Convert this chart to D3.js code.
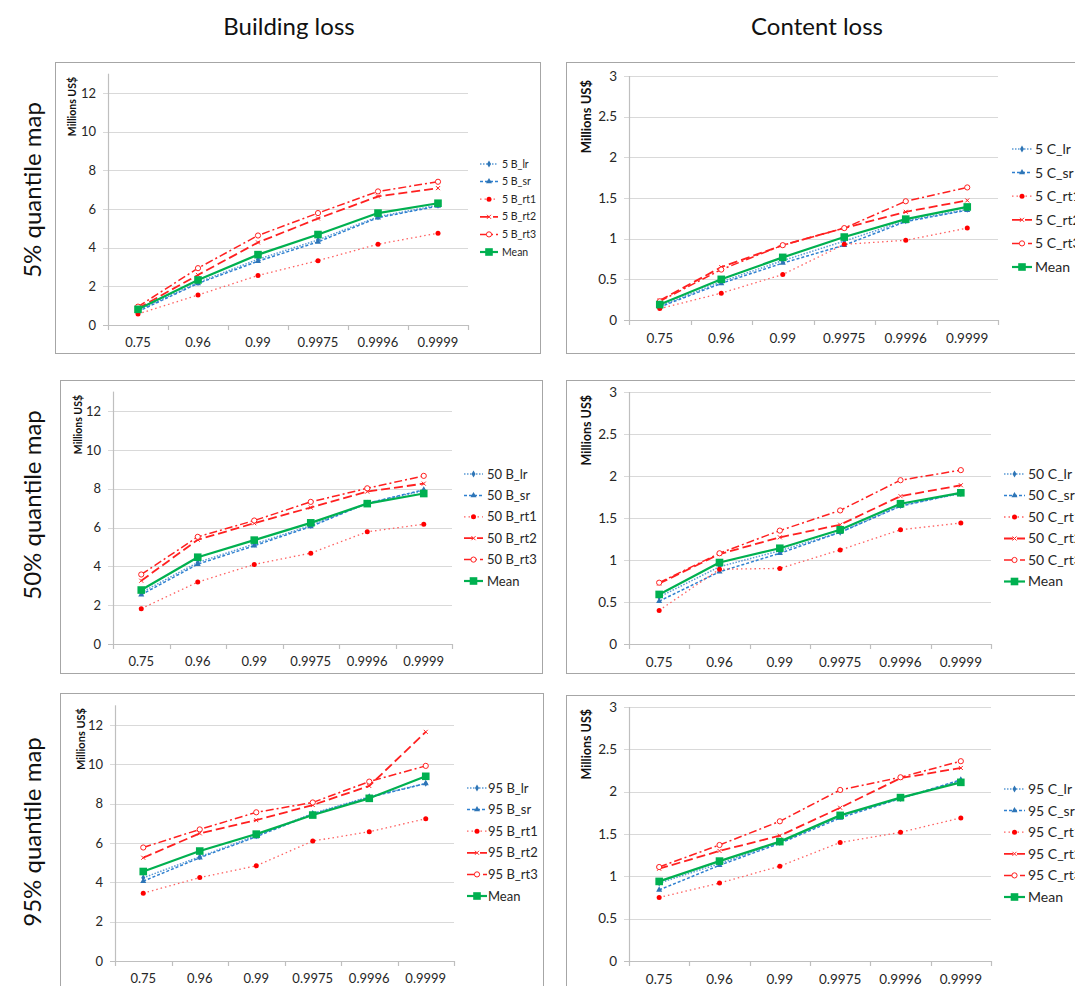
<!DOCTYPE html>
<html><head><meta charset="utf-8">
<script src="https://cdn.jsdelivr.net/npm/d3@7"></script>
<style>
html,body{margin:0;padding:0;background:#fff;}
svg{display:block;font-family:Lato,"Open Sans",sans-serif;}
</style></head>
<body>
<svg id="chart" width="1075" height="986"></svg>
<script>
// ---------- data ----------
const categories = ["0.75","0.96","0.99","0.9975","0.9996","0.9999"];
const seriesSuffix = ["lr","sr","rt1","rt2","rt3"];
const columnTitles = ["Building loss","Content loss"];
const rowTitles = ["5% quantile map","50% quantile map","95% quantile map"];
const buildingTicks = [0,2,4,6,8,10,12];
const buildingTickLabels = ["0","2","4","6","8","10","12"];
const contentTicks = [0,0.5,1,1.5,2,2.5,3];
const contentTickLabels = ["0","0.5","1","1.5","2","2.5","3"];
const yAxisTitle = "Millions US$";

// Building loss, 5% quantile map
const b5_lr   = [0.75, 2.20, 3.40, 4.40, 5.60, 6.20];
const b5_sr   = [0.70, 2.15, 3.30, 4.30, 5.55, 6.15];
const b5_rt1  = [0.57, 1.55, 2.56, 3.33, 4.18, 4.75];
const b5_rt2  = [0.86, 2.59, 4.27, 5.51, 6.65, 7.08];
const b5_rt3  = [0.95, 2.94, 4.63, 5.79, 6.91, 7.41];
const b5_mean = [0.81, 2.33, 3.64, 4.68, 5.79, 6.30];
// Content loss, 5%
const c5_lr   = [0.17, 0.47, 0.73, 0.97, 1.22, 1.36];
const c5_sr   = [0.16, 0.45, 0.70, 0.92, 1.21, 1.35];
const c5_rt1  = [0.14, 0.33, 0.56, 0.93, 0.98, 1.13];
const c5_rt2  = [0.24, 0.65, 0.92, 1.13, 1.33, 1.47];
const c5_rt3  = [0.23, 0.62, 0.92, 1.13, 1.46, 1.63];
const c5_mean = [0.19, 0.50, 0.77, 1.02, 1.24, 1.39];
// Building loss, 50%
const b50_lr   = [2.65, 4.20, 5.15, 6.10, 7.25, 7.90];
const b50_sr   = [2.54, 4.11, 5.06, 6.05, 7.25, 7.94];
const b50_rt1  = [1.82, 3.19, 4.10, 4.68, 5.78, 6.17];
const b50_rt2  = [3.26, 5.37, 6.22, 7.03, 7.85, 8.26];
const b50_rt3  = [3.58, 5.52, 6.36, 7.32, 8.02, 8.66];
const b50_mean = [2.78, 4.47, 5.35, 6.24, 7.23, 7.75];
// Content loss, 50%
const c50_lr   = [0.56, 0.92, 1.11, 1.33, 1.65, 1.79];
const c50_sr   = [0.51, 0.86, 1.08, 1.33, 1.64, 1.80];
const c50_rt1  = [0.40, 0.89, 0.90, 1.12, 1.36, 1.44];
const c50_rt2  = [0.72, 1.07, 1.27, 1.42, 1.76, 1.89];
const c50_rt3  = [0.73, 1.08, 1.35, 1.59, 1.95, 2.07];
const c50_mean = [0.59, 0.97, 1.14, 1.36, 1.67, 1.80];
// Building loss, 95%
const b95_lr   = [4.23, 5.30, 6.37, 7.50, 8.35, 9.03];
const b95_sr   = [4.06, 5.25, 6.32, 7.47, 8.32, 9.02];
const b95_rt1  = [3.45, 4.24, 4.84, 6.10, 6.57, 7.23];
const b95_rt2  = [5.25, 6.49, 7.16, 7.93, 8.90, 11.65];
const b95_rt3  = [5.77, 6.69, 7.56, 8.06, 9.12, 9.92];
const b95_mean = [4.55, 5.59, 6.45, 7.42, 8.27, 9.39];
// Content loss, 95%
const c95_lr   = [0.92, 1.15, 1.40, 1.71, 1.92, 2.13];
const c95_sr   = [0.84, 1.13, 1.39, 1.69, 1.92, 2.14];
const c95_rt1  = [0.75, 0.92, 1.12, 1.40, 1.52, 1.69];
const c95_rt2  = [1.09, 1.30, 1.48, 1.81, 2.16, 2.28];
const c95_rt3  = [1.11, 1.37, 1.65, 2.02, 2.17, 2.36];
const c95_mean = [0.94, 1.18, 1.41, 1.72, 1.93, 2.11];

// ---------- styles ----------
const styles = {
  lr:  {stroke:"#5b9bd5", width:1.5, dash:"1.5,1.5", marker:"dot",  mfill:"#2e75b6"},
  sr:  {stroke:"#2f80d0", width:1.5, dash:"3,2",     marker:"tri",  mfill:"#2e75b6"},
  rt1: {stroke:"#ff6060", width:1.3, dash:"1.5,3",   marker:"circ", mfill:"#ff0000"},
  rt2: {stroke:"#ff2020", width:1.8, dash:"9,4",     marker:"x",    mfill:"#ff0000"},
  rt3: {stroke:"#ff2020", width:1.5, dash:"8,3,2,3", marker:"ocirc",mfill:"#ffffff"},
  Mean:{stroke:"#00b050", width:2.2, dash:null,      marker:"sq",   mfill:"#00b050"}
};

// ---------- panel layout ----------
const panels = [
  {q:"5", type:"B", series:[b5_lr,b5_sr,b5_rt1,b5_rt2,b5_rt3,b5_mean],
   box:[55,62,485,291], xr:[108,468], y0:325, yTop:73.7,
   leg:{lx:480, lw:18, tx:502, y:164, dy:17.6, fs:10.5}, tfs:13, title:{x:76, top:77, fs:10.5}},
  {q:"5", type:"C", series:[c5_lr,c5_sr,c5_rt1,c5_rt2,c5_rt3,c5_mean],
   box:[566,62,520,291], xr:[629,998], y0:320, yTop:76,
   leg:{lx:1012, lw:20, tx:1035, y:149, dy:23.6, fs:14}, tfs:13.5, title:{x:591, top:80, fs:13}},
  {q:"50", type:"B", series:[b50_lr,b50_sr,b50_rt1,b50_rt2,b50_rt3,b50_mean],
   box:[60,380,482,293], xr:[113,452], y0:644, yTop:391.6,
   leg:{lx:464, lw:19, tx:487, y:474, dy:21.4, fs:13}, tfs:13, title:{x:82, top:395, fs:10.5}},
  {q:"50", type:"C", series:[c50_lr,c50_sr,c50_rt1,c50_rt2,c50_rt3,c50_mean],
   box:[566,380,520,293], xr:[629,991], y0:644, yTop:392,
   leg:{lx:1004, lw:21, tx:1028, y:474, dy:21.5, fs:14}, tfs:13.5, title:{x:591, top:395, fs:12.5}},
  {q:"95", type:"B", series:[b95_lr,b95_sr,b95_rt1,b95_rt2,b95_rt3,b95_mean],
   box:[60,693,483,300], xr:[115,454], y0:961, yTop:705.3,
   leg:{lx:467, lw:20, tx:488, y:788, dy:21.6, fs:13}, tfs:13, title:{x:85, top:708, fs:11}},
  {q:"95", type:"C", series:[c95_lr,c95_sr,c95_rt1,c95_rt2,c95_rt3,c95_mean],
   box:[566,695,520,300], xr:[629,991], y0:961, yTop:707,
   leg:{lx:1004, lw:21, tx:1028, y:789, dy:21.6, fs:14}, tfs:13.5, title:{x:591, top:709, fs:12.5}}
];

const svg = d3.select("#chart");
const keys = ["lr","sr","rt1","rt2","rt3","Mean"];

function drawMarker(g, kind, x, y, st){
  if(kind==="dot"){
    g.append("path").attr("d", d3.symbol(d3.symbolDiamond, 14)()).attr("transform",`translate(${x},${y})`).attr("fill", st.mfill);
  } else if(kind==="tri"){
    g.append("path").attr("d", d3.symbol(d3.symbolTriangle, 16)()).attr("transform",`translate(${x},${y})`).attr("fill", st.mfill);
  } else if(kind==="circ"){
    g.append("circle").attr("cx",x).attr("cy",y).attr("r",2.5).attr("fill", st.mfill);
  } else if(kind==="x"){
    g.append("path").attr("d",`M${x-2},${y-2}L${x+2},${y+2}M${x-2},${y+2}L${x+2},${y-2}`).attr("stroke","#ff2020").attr("stroke-width",1);
  } else if(kind==="ocirc"){
    g.append("circle").attr("cx",x).attr("cy",y).attr("r",2.6).attr("fill","#fff").attr("stroke","#ff2020").attr("stroke-width",1);
  } else if(kind==="sq"){
    g.append("rect").attr("x",x-3.8).attr("y",y-3.8).attr("width",7.6).attr("height",7.6).attr("fill", st.mfill);
  }
}

panels.forEach(p => {
  const g = svg.append("g");
  // border
  g.append("rect").attr("x",p.box[0]+0.5).attr("y",p.box[1]+0.5).attr("width",p.box[2]).attr("height",p.box[3])
    .attr("fill","none").attr("stroke","#a6a6a6").attr("stroke-width",1);

  const isB = p.type==="B";
  const x = d3.scaleBand().domain(categories).range(p.xr).paddingInner(0).paddingOuter(0);
  const y = d3.scaleLinear().domain([0, isB?13:3]).range([p.y0, p.yTop]);
  const ticks = isB ? buildingTicks : contentTicks;
  const tickLabels = isB ? buildingTickLabels : contentTickLabels;

  // gridlines
  g.append("g").selectAll("line").data(ticks.filter(t=>t>0)).join("line")
    .attr("x1",p.xr[0]-5).attr("x2",p.xr[1])
    .attr("y1",d=>Math.round(y(d))+0.5).attr("y2",d=>Math.round(y(d))+0.5)
    .attr("stroke","#d9d9d9").attr("stroke-width",1.2);

  // y axis
  const yAxis = d3.axisLeft(y).tickValues(ticks).tickFormat((d,i)=>tickLabels[i]).tickSize(0).tickPadding(12);
  const ya = g.append("g").attr("transform",`translate(${p.xr[0]},0)`).call(yAxis);
  ya.select(".domain").remove();
  ya.selectAll("text").attr("font-size",p.tfs).attr("fill","#262626").attr("font-family","Lato, sans-serif");
  g.append("line").attr("x1",p.xr[0]+0.5).attr("x2",p.xr[0]+0.5).attr("y1",p.yTop).attr("y2",p.y0)
    .attr("stroke","#bfbfbf").attr("stroke-width",1.2);

  // x axis
  const xAxis = d3.axisBottom(x).tickSize(0).tickPadding(13);
  const xa = g.append("g").attr("transform",`translate(0,${p.y0})`).call(xAxis);
  xa.select(".domain").remove();
  xa.selectAll("text").attr("font-size",p.tfs).attr("fill","#262626").attr("font-family","Lato, sans-serif");
  g.append("line").attr("x1",p.xr[0]-5).attr("x2",p.xr[1]).attr("y1",p.y0+0.5).attr("y2",p.y0+0.5)
    .attr("stroke","#bfbfbf").attr("stroke-width",1.2);
  const seps = categories.map(c=>x(c)).concat([x(categories[categories.length-1])+x.bandwidth()]);
  g.append("g").selectAll("line").data(seps).join("line")
    .attr("x1",d=>Math.round(d)+0.5).attr("x2",d=>Math.round(d)+0.5).attr("y1",p.y0).attr("y2",p.y0+5)
    .attr("stroke","#bfbfbf").attr("stroke-width",1.2);

  // y title
  g.append("text").attr("transform",`translate(${p.title.x},${p.title.top}) rotate(-90)`)
    .attr("text-anchor","end").attr("font-size",p.title.fs).attr("font-weight","bold").attr("fill","#111")
    .text(yAxisTitle);

  // lines
  const line = d3.line().x((d,i)=>x(categories[i])+x.bandwidth()/2).y(d=>y(d));
  keys.forEach((k,si) => {
    const st = styles[k];
    const vals = p.series[si];
    g.append("path").datum(vals).attr("d",line).attr("fill","none")
      .attr("stroke",st.stroke).attr("stroke-width",st.width)
      .attr("stroke-dasharray",st.dash).attr("stroke-linejoin","round");
    vals.forEach((v,i)=> drawMarker(g, st.marker, x(categories[i])+x.bandwidth()/2, y(v), st));
  });

  // legend
  keys.forEach((k,si)=>{
    const st = styles[k];
    const ly = p.leg.y + si*p.leg.dy;
    g.append("line").attr("x1",p.leg.lx).attr("x2",p.leg.lx+p.leg.lw).attr("y1",ly).attr("y2",ly)
      .attr("stroke",st.stroke).attr("stroke-width",st.width).attr("stroke-dasharray",st.dash);
    drawMarker(g, st.marker, p.leg.lx+p.leg.lw/2, ly, st);
    const label = k==="Mean" ? "Mean" : `${p.q} ${p.type}_${k}`;
    g.append("text").attr("x",p.leg.tx).attr("y",ly).attr("dy","0.35em")
      .attr("font-size",p.leg.fs).attr("fill","#262626").text(label);
  });
});

// column titles
svg.append("text").attr("x",289).attr("y",35).attr("text-anchor","middle").attr("font-size",24).attr("fill","#111").text(columnTitles[0]);
svg.append("text").attr("x",817).attr("y",35).attr("text-anchor","middle").attr("font-size",24).attr("fill","#111").text(columnTitles[1]);
// row titles
const rowCenters = [190, 505, 832];
rowTitles.forEach((t,i)=>{
  svg.append("text").attr("transform",`translate(41,${rowCenters[i]}) rotate(-90)`)
    .attr("text-anchor","middle").attr("font-size",24).attr("fill","#111").text(t);
});
</script>
</body></html>
